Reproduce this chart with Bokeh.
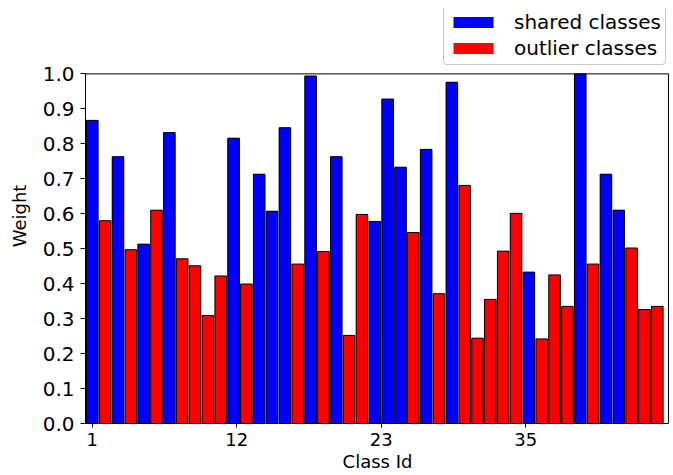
from bokeh.plotting import figure
from bokeh.models import (ColumnDataSource, Range1d, FixedTicker, Legend, LegendItem,
                          PrintfTickFormatter, BoxAnnotation)
from bokeh.embed import file_html
from bokeh.resources import INLINE

# ---- data ----
class_index = list(range(45))
weights = [0.867, 0.580, 0.763, 0.497, 0.513, 0.610, 0.832, 0.471, 0.451, 0.309,
           0.422, 0.816, 0.399, 0.713, 0.607, 0.846, 0.456, 0.994, 0.492, 0.763,
           0.252, 0.598, 0.578, 0.928, 0.733, 0.546, 0.784, 0.371, 0.976, 0.681,
           0.244, 0.355, 0.493, 0.601, 0.433, 0.242, 0.425, 0.335, 1.000, 0.456,
           0.713, 0.610, 0.502, 0.326, 0.335]
kinds = ["S", "O", "S", "O", "S", "O", "S", "O", "O", "O",
         "O", "S", "O", "S", "S", "S", "O", "S", "O", "S",
         "O", "O", "S", "S", "S", "O", "S", "O", "S", "O",
         "O", "O", "O", "O", "S", "O", "O", "O", "S", "O",
         "S", "S", "O", "O", "O"]
tick_positions = [0, 11.25, 22.5, 33.75]
tick_labels = ["1", "12", "23", "35"]
y_ticks = [0.0, 0.1, 0.2, 0.3, 0.4, 0.5, 0.6, 0.7, 0.8, 0.9, 1.0]
series_names = ["shared classes", "outlier classes"]
series_colors = ["#0000ff", "#ff0000"]
y_max = 1.0
x_lo, x_hi = -0.53, 44.87

shared = ColumnDataSource(dict(
    x=[i for i, k in zip(class_index, kinds) if k == "S"],
    top=[w for w, k in zip(weights, kinds) if k == "S"]))
outlier = ColumnDataSource(dict(
    x=[i for i, k in zip(class_index, kinds) if k == "O"],
    top=[w for w, k in zip(weights, kinds) if k == "O"]))

FONT = "DejaVu Sans"

# frame extends above 1.0 so the legend can sit over the axes box
p = figure(frame_width=584, frame_height=415, output_backend="svg",
           toolbar_location=None, title=None,
           x_range=Range1d(x_lo, x_hi + 0.08), y_range=Range1d(0, 1.187),
           min_border_left=85, min_border_top=8, min_border_right=0,
           min_border_bottom=0)

# outline-free copies (used as legend swatches), drawn under the outlined bars
k1 = p.vbar(x="x", top="top", width=0.9, source=shared,
            fill_color=series_colors[0], line_color=None)
k2 = p.vbar(x="x", top="top", width=0.9, source=outlier,
            fill_color=series_colors[1], line_color=None)
p.vbar(x="x", top="top", width=0.9, source=shared,
       fill_color=series_colors[0], line_color="black", line_width=1)
p.vbar(x="x", top="top", width=0.9, source=outlier,
       fill_color=series_colors[1], line_color="black", line_width=1)

p.xgrid.visible = False
p.ygrid.visible = False
p.outline_line_color = None

# axes box (top and right spines)
p.add_layout(BoxAnnotation(left=x_lo, right=x_hi, bottom=0, top=y_max,
                           fill_alpha=0, fill_color=None,
                           line_color="black", line_width=1, line_alpha=1))

left_axis = p.yaxis[0]
bottom_axis = p.xaxis[0]

bottom_axis.ticker = FixedTicker(ticks=tick_positions)
bottom_axis.major_label_overrides = {t: l for t, l in zip(tick_positions, tick_labels)}
left_axis.ticker = FixedTicker(ticks=y_ticks)
left_axis.formatter = PrintfTickFormatter(format="%.1f")
left_axis.bounds = (0, y_max)
bottom_axis.bounds = (x_lo, x_hi)

for ax in (bottom_axis, left_axis):
    ax.axis_line_color = "black"
    ax.major_tick_line_color = "black"
    ax.minor_tick_line_color = None
    ax.major_tick_in = 0
    ax.major_label_text_font = FONT
    ax.axis_label_text_font = FONT
    ax.major_label_text_color = "black"
    ax.axis_label_text_color = "black"
    ax.axis_label_text_font_style = "normal"

bottom_axis.axis_label = "Class Id"
left_axis.axis_label = "Weight"
bottom_axis.major_tick_out = 4
bottom_axis.major_label_standoff = 5
bottom_axis.major_label_text_font_size = "18px"
bottom_axis.axis_label_text_font_size = "18px"
bottom_axis.axis_label_standoff = 2
left_axis.major_tick_out = 5
left_axis.major_label_standoff = 6
left_axis.major_label_text_font_size = "20px"
left_axis.axis_label_text_font_size = "18px"
left_axis.axis_label_standoff = 10

legend = Legend(items=[LegendItem(label=series_names[0], renderers=[k1]),
                       LegendItem(label=series_names[1], renderers=[k2])],
                location=(358, 358))
legend.label_text_font = FONT
legend.label_text_font_size = "20px"
legend.label_text_color = "black"
legend.glyph_width = 50
legend.glyph_height = 14
legend.label_standoff = 16
legend.padding = 4
legend.spacing = 2
legend.margin = 0
legend.border_line_color = "#c8c8c8"
legend.border_line_width = 1
legend.border_line_alpha = 1
legend.background_fill_alpha = 0.8
legend.border_radius = 4
p.add_layout(legend, "center")

open("out.html", "w").write(file_html(p, INLINE))
